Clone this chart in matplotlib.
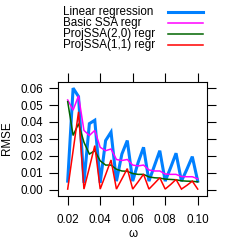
import numpy as np
import matplotlib
matplotlib.use("Agg")
import matplotlib.pyplot as plt
from matplotlib.lines import Line2D

plt.rcParams['font.family'] = ['Liberation Sans', 'DejaVu Sans']

# omega grid: 0.02 .. 0.10 in steps of 1/300
omega = [0.02 + k / 300 for k in range(25)]

linear_regr = [0.005, 0.060, 0.055, 0.004, 0.039, 0.041, 0.004, 0.029, 0.034,
               0.005, 0.021, 0.029, 0.005, 0.016, 0.025, 0.005, 0.014, 0.023,
               0.005, 0.013, 0.0215, 0.005, 0.012, 0.0195, 0.005]
basic_ssa = [0.053, 0.047, 0.0555, 0.035, 0.032, 0.035, 0.025, 0.023, 0.024,
             0.0178, 0.0172, 0.0178, 0.0145, 0.014, 0.0145, 0.0116, 0.011, 0.011,
             0.0092, 0.009, 0.009, 0.0077, 0.0076, 0.0076, 0.0064]
proj_20 = [0.052, 0.032, 0.039, 0.028, 0.021, 0.023, 0.017, 0.0145, 0.0145,
           0.012, 0.011, 0.0108, 0.0095, 0.009, 0.009, 0.0075, 0.007, 0.0068,
           0.0062, 0.006, 0.0058, 0.0052, 0.005, 0.0049, 0.0046]
proj_11 = [0.0003, 0.023, 0.046, 0.0003, 0.013, 0.026, 0.0003, 0.0088, 0.0175,
           0.0003, 0.0063, 0.0124, 0.0003, 0.0046, 0.0091, 0.0003, 0.0036, 0.0070,
           0.0003, 0.003, 0.006, 0.0003, 0.0025, 0.0050, 0.0003]

series = [
    ("Linear regression", linear_regr, "#0080ff", 2.2),
    ("Basic SSA regr", basic_ssa, "#ff00ff", 1.1),
    ("ProjSSA(2,0) regr", proj_20, "#006400", 1.1),
    ("ProjSSA(1,1) regr", proj_11, "#ff0000", 1.1),
]

xticks = [0.02, 0.04, 0.06, 0.08, 0.10]
yticks = [0.00, 0.01, 0.02, 0.03, 0.04, 0.05, 0.06]

W = H = 242
fig = plt.figure(figsize=(2.42, 2.42), dpi=100)
L, R, T, B = 58.3, 207.3, 81.7, 196.0
ax = fig.add_axes([L / W, 1 - B / H, (R - L) / W, (B - T) / H])

for name, vals, col, lw in series:
    ax.plot(omega, vals, color=col, lw=lw, solid_joinstyle='miter')

ax.set_xlim(0.01422, 0.1059)
ax.set_ylim(-0.00379, 0.0638)
ax.set_xticks(xticks)
ax.set_xticklabels(["%.2f" % v for v in xticks])
ax.set_yticks(yticks)
ax.set_yticklabels(["%.2f" % v for v in yticks])
ax.tick_params(direction='out', length=6.8, width=0.8, labelsize=8.4,
               top=True, right=True, labeltop=False, labelright=False)
ax.tick_params(axis='x', pad=6.0)
ax.tick_params(axis='y', pad=4.0)
for s in ax.spines.values():
    s.set_linewidth(0.8)

fig.text(132.7 / W, 1 - 234 / H, "ω", ha='center', va='center', fontsize=8.4)
fig.text(7 / W, 1 - 138 / H, "RMSE", ha='center', va='center', rotation=90, fontsize=8.4)

# legend (key at top)
rows = [12, 23, 34, 45]
for (name, vals, col, lw), ry in zip(series, rows):
    fig.text(63.3 / W, 1 - ry / H, name, ha='left', va='center', fontsize=8.4)
    fig.add_artist(Line2D([168.3 / W, 202.7 / W], [1 - ry / H, 1 - ry / H],
                          color=col, lw=lw, transform=fig.transFigure))

fig.savefig("out.png", dpi=100)
